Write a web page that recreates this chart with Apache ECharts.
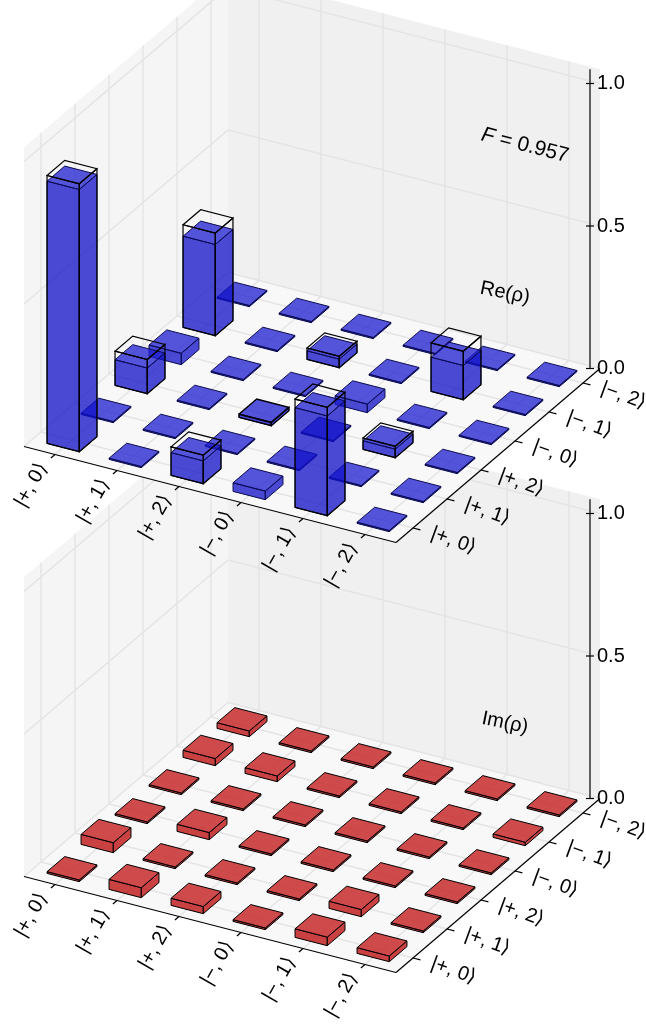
<!DOCTYPE html>
<html>
<head>
<meta charset="UTF-8">
<script src="https://cdn.jsdelivr.net/npm/echarts@6/dist/echarts.min.js"></script>
<style>html,body{margin:0;padding:0;background:#fff}</style>
</head>
<body>
<div id="main" style="width:646px;height:1035px;"></div>
<script>
// axis labels (columns along front-left edge, rows along front-right edge)
var colLabels = ['|+, 0⟩','|+, 1⟩','|+, 2⟩','|−, 0⟩','|−, 1⟩','|−, 2⟩'];
var rowLabels = ['|+, 0⟩','|+, 1⟩','|+, 2⟩','|−, 0⟩','|−, 1⟩','|−, 2⟩'];
var zTicks = [0, 0.5, 1.0];
var zTickLabels = ['0.0','0.5','1.0'];

// Re(rho) measured, reMeas[row][col]
var reMeas = [
  [0.92, 0.004, 0.08, 0.03, 0.35, 0.004],
  [0.004,0.004, 0.004,0.004,0.004,0.004],
  [0.09, 0.004, 0.01, 0.004,0.03, 0.004],
  [0.04, 0.004, 0.004,0.03, 0.004,0.004],
  [0.32, 0.004, 0.03, 0.004,0.12, 0.004],
  [0.004,0.004, 0.004,0.004,0.004,0.004]
];
// Re(rho) ideal (wireframes)
var reIdeal = [
  [0.94, 0, 0.10, 0, 0.38, 0],
  [0,    0, 0,    0, 0,    0],
  [0.12, 0, 0.012,0, 0.04, 0],
  [0,    0, 0,    0, 0,    0],
  [0.36, 0, 0.04, 0, 0.17, 0],
  [0,    0, 0,    0, 0,    0]
];
// Im(rho) measured
var imMeas = [
  [0.006,0.035,0.025,0.006,0.03, 0.02],
  [0.035,0.006,0.006,0.006,0.025,0.006],
  [0.006,0.025,0.006,0.006,0.006,0.006],
  [0.006,0.006,0.006,0.006,0.006,0.006],
  [0.025,0.02, 0.006,0.006,0.006,0.012],
  [0.02, 0.006,0.006,0.006,0.006,0.006]
];

var panels = [
  {ox: 72, oy: 870, meas: imMeas, ideal: null, fill: 'rgba(190,25,25,0.82)', top: 'rgba(200,45,45,0.85)', edge: '#000', label: 'Im(ρ)'},
  {ox: 72, oy: 440, meas: reMeas, ideal: reIdeal, fill: 'rgba(15,15,200,0.75)', top: 'rgba(30,30,210,0.75)', edge: '#0a0a50', label: 'Re(ρ)'}
];

function P(pan, c, r, z) {
  return [pan.ox + c*62 + r*34, pan.oy + c*16 - r*29 - z*285];
}

var chart = echarts.init(document.getElementById('main'));
var font = 'Liberation Sans';

function renderItem(params, api) {
  var ch = [];
  function pt(pan, c, r, z) { return api.coord(P(pan, c, r, z)); }
  function poly(pts, fill, stroke, lw) {
    ch.push({type:'polygon', shape:{points:pts}, style:{fill:fill, stroke:stroke, lineWidth:lw || 1}});
  }
  function line(a, b, stroke, lw) {
    ch.push({type:'line', shape:{x1:a[0], y1:a[1], x2:b[0], y2:b[1]}, style:{stroke:stroke, lineWidth:lw}});
  }
  function text(p, s, size, rot, align, va) {
    ch.push({type:'text', x:p[0], y:p[1], rotation:rot || 0,
      style:{text:s, fontSize:size, fontFamily:font, fill:'#000', align:align, verticalAlign:va}});
  }
  function box(pan, c, r, h, fill, top, stroke, lw) {
    var s = 0.26, x0 = c-s, x1 = c+s, y0 = r-s, y1 = r+s;
    poly([pt(pan,x0,y0,0), pt(pan,x1,y0,0), pt(pan,x1,y0,h), pt(pan,x0,y0,h)], fill, stroke, lw);
    poly([pt(pan,x1,y0,0), pt(pan,x1,y1,0), pt(pan,x1,y1,h), pt(pan,x1,y0,h)], fill, stroke, lw);
    poly([pt(pan,x0,y0,h), pt(pan,x1,y0,h), pt(pan,x1,y1,h), pt(pan,x0,y1,h)], top, stroke, lw);
  }
  var lo = -0.5, hi = 5.5, zt = 1.05;
  panels.forEach(function (pan) {
    // panes
    poly([pt(pan,lo,lo,0), pt(pan,lo,hi,0), pt(pan,lo,hi,zt), pt(pan,lo,lo,zt)], '#f5f5f5', null);
    poly([pt(pan,lo,hi,0), pt(pan,hi,hi,0), pt(pan,hi,hi,zt), pt(pan,lo,hi,zt)], '#f0f0f0', null);
    poly([pt(pan,lo,lo,0), pt(pan,hi,lo,0), pt(pan,hi,hi,0), pt(pan,lo,hi,0)], '#f8f8f8', null);
    var gc = '#e4e4e4';
    for (var i = 0; i < 6; i++) {
      line(pt(pan,lo,i,0), pt(pan,lo,i,zt), gc, 1.5);
      line(pt(pan,i,hi,0), pt(pan,i,hi,zt), gc, 1.5);
      line(pt(pan,i,lo,0), pt(pan,i,hi,0), gc, 1.5);
      line(pt(pan,lo,i,0), pt(pan,hi,i,0), gc, 1.5);
    }
    zTicks.forEach(function (z) {
      line(pt(pan,lo,lo,z), pt(pan,lo,hi,z), gc, 1.5);
      line(pt(pan,lo,hi,z), pt(pan,hi,hi,z), gc, 1.5);
    });
    // axes
    line(pt(pan,lo,lo,0), pt(pan,hi,lo,0), '#000', 1.2);
    line(pt(pan,hi,lo,0), pt(pan,hi,hi,0), '#000', 1.2);
    var za = pt(pan,hi,hi,0), zb = pt(pan,hi,hi,zt);
    za[0] -= 10; zb[0] -= 10;
    line(za, zb, '#000', 1.2);
    zTicks.forEach(function (z, k) {
      var p = pt(pan,hi,hi,z); p[0] -= 10;
      line([p[0]-4,p[1]], [p[0]+4,p[1]], '#000', 1.2);
      text([p[0]+7,p[1]], zTickLabels[k], 20, 0, 'left', 'middle');
    });
    for (var c = 0; c < 6; c++) {
      var a = pt(pan,c,lo,0), b = pt(pan,c,lo-0.12,0);
      line(a, b, '#000', 1.2);
      text(pt(pan,c,lo-0.35,0), colLabels[c], 20, 1.05, 'right', 'middle');
    }
    for (var r = 0; r < 6; r++) {
      line(pt(pan,hi,r,0), pt(pan,hi+0.12,r,0), '#000', 1.2);
      text(pt(pan,hi+0.3,r,0), rowLabels[r], 20, -0.35, 'left', 'middle');
    }
    // bars, back to front
    var cells = [];
    for (var rr = 0; rr < 6; rr++) for (var cc = 0; cc < 6; cc++) cells.push([cc, rr]);
    cells.sort(function (m, n) { return P(pan,m[0],m[1],0)[1] - P(pan,n[0],n[1],0)[1]; });
    cells.forEach(function (cell) {
      var c = cell[0], r = cell[1];
      box(pan, c, r, pan.meas[r][c], pan.fill, pan.top, pan.edge, 1);
      if (pan.ideal && pan.ideal[r][c] > 0) box(pan, c, r, pan.ideal[r][c], 'none', 'none', '#000', 1.2);
    });
    var lp = pt(pan,5.5,5.5,0.3);
    text([lp[0]-95, lp[1]+10], pan.label, 20, -0.2, 'center', 'middle');
  });
  var fp = pt(panels[1],5.5,5.5,0.8);
  ch.push({type:'text', x:fp[0]-75, y:fp[1]+5, rotation:-0.25,
    style:{rich:{i:{fontStyle:'italic', fontSize:21, fontFamily:font}, n:{fontSize:21, fontFamily:font}},
      text:'{i|F}{n| = 0.957}', align:'center', verticalAlign:'middle'}});
  return {type:'group', children:ch};
}

chart.setOption({
  animation: false,
  grid: {left:0, right:0, top:0, bottom:0},
  xAxis: {type:'value', min:0, max:646, show:false},
  yAxis: {type:'value', min:0, max:1035, inverse:true, show:false},
  series: [{type:'custom', renderItem:renderItem, data:[[0]], clip:false}]
});
</script>
</body>
</html>
